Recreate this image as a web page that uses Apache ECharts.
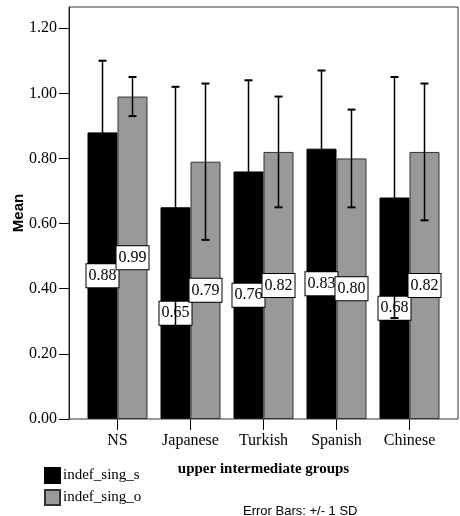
<!DOCTYPE html>
<html>
<head>
<meta charset="utf-8">
<script src="https://cdn.jsdelivr.net/npm/echarts@6/dist/echarts.min.js"></script>
<style>
  html, body { margin: 0; padding: 0; background: #fff; }
  #chart { width: 460px; height: 516px; }
</style>
</head>
<body>
<div id="chart"></div>
<script>
// Group means with +/- 1 SD error bars
var categories = ['NS', 'Japanese', 'Turkish', 'Spanish', 'Chinese'];
var meanS = [0.88, 0.65, 0.76, 0.83, 0.68];
var meanO = [0.99, 0.79, 0.82, 0.80, 0.82];
var sdS = [0.22, 0.37, 0.28, 0.24, 0.37];
var sdO = [0.06, 0.24, 0.17, 0.15, 0.21];
var yTicks = [0, 0.2, 0.4, 0.6, 0.8, 1.0, 1.2];

var SERIF = 'Liberation Serif';
var SANS = 'Liberation Sans';
var BAR_W = 30;

var chart = echarts.init(document.getElementById('chart'), null, { renderer: 'canvas' });

function errorBars(means, sds, side) {
  return {
    type: 'custom',
    z: 5,
    silent: true,
    data: means.map(function (m, i) { return [i, m - sds[i], m + sds[i]]; }),
    encode: { x: 0, y: [1, 2] },
    renderItem: function (params, api) {
      var c = api.value(0);
      var lo = api.coord([c, api.value(1)]);
      var hi = api.coord([c, api.value(2)]);
      var x = lo[0] + side * BAR_W / 2;
      var cap = 4;
      var st = { stroke: '#000', lineWidth: 1.5 };
      var capSt = { stroke: '#000', lineWidth: 2 };
      return {
        type: 'group',
        children: [
          { type: 'line', shape: { x1: x, y1: lo[1], x2: x, y2: hi[1] }, style: st },
          { type: 'line', shape: { x1: x - cap, y1: hi[1], x2: x + cap, y2: hi[1] }, style: capSt },
          { type: 'line', shape: { x1: x - cap, y1: lo[1], x2: x + cap, y2: lo[1] }, style: capSt }
        ]
      };
    }
  };
}

var barLabel = {
  show: true,
  position: 'inside',
  formatter: function (p) { return p.value.toFixed(2); },
  color: '#000',
  fontFamily: SERIF,
  fontSize: 16,
  backgroundColor: '#fff',
  borderColor: '#000',
  borderWidth: 1,
  padding: [4, 2, 3, 2]
};

var option = {
  backgroundColor: '#fff',
  animation: false,
  grid: { left: 81, right: 14, top: 7, bottom: 97, containLabel: false, outerBoundsMode: 'none' },
  xAxis: {
    type: 'category',
    data: categories,
    axisLine: { show: false },
    axisTick: { show: true, alignWithLabel: true, length: 11, lineStyle: { color: '#000', width: 1 } },
    axisLabel: { color: '#000', fontFamily: SERIF, fontSize: 16, margin: 14, interval: 0, hideOverlap: false },
    name: 'upper intermediate groups',
    nameLocation: 'middle',
    nameGap: 43,
    nameMoveOverlap: false,
    nameTextStyle: { color: '#000', fontFamily: SERIF, fontSize: 15, fontWeight: 'bold' }
  },
  yAxis: {
    type: 'value',
    min: 0,
    max: 1.265,
    interval: 0.2,
    offset: 12,
    splitLine: { show: false },
    axisLine: { show: true, lineStyle: { color: '#000', width: 1 } },
    axisTick: { show: true, length: 10, customValues: yTicks, lineStyle: { color: '#000', width: 1 } },
    axisLabel: {
      color: '#000', fontFamily: SERIF, fontSize: 16, margin: 12,
      customValues: yTicks,
      formatter: function (v) { return v.toFixed(2); }
    },
    name: 'Mean',
    nameLocation: 'middle',
    nameRotate: 90,
    nameGap: 43,
    nameMoveOverlap: false,
    nameTextStyle: { color: '#000', fontFamily: SANS, fontSize: 15, fontWeight: 'bold' }
  },
  legend: {
    orient: 'vertical',
    left: 44,
    top: 467,
    padding: 0,
    itemWidth: 15,
    itemHeight: 15,
    itemGap: 5,
    icon: 'rect',
    textStyle: { color: '#000', fontFamily: SERIF, fontSize: 15, padding: [0, 0, 0, -2] },
    data: ['indef_sing_s', 'indef_sing_o']
  },
  graphic: [
    {
      type: 'rect',
      z: 10,
      silent: true,
      shape: { x: 69, y: 7, width: 389, height: 412 },
      style: { fill: null, stroke: '#333', lineWidth: 1 }
    },
    {
      type: 'text',
      left: 243,
      top: 505,
      style: { text: 'Error Bars: +/- 1 SD', fill: '#000', font: '13px "Liberation Sans"' }
    }
  ],
  series: [
    {
      name: 'indef_sing_s',
      type: 'bar',
      z: 2,
      barWidth: BAR_W,
      barGap: '0%',
      data: meanS,
      itemStyle: { color: '#000', borderColor: '#000', borderWidth: 1 },
      label: barLabel
    },
    {
      name: 'indef_sing_o',
      type: 'bar',
      z: 2,
      barWidth: BAR_W,
      barGap: '0%',
      data: meanO,
      itemStyle: { color: '#999', borderColor: '#333', borderWidth: 1 },
      label: barLabel
    },
    errorBars(meanS, sdS, -1),
    errorBars(meanO, sdO, 1)
  ]
};

chart.setOption(option);
</script>
</body>
</html>
